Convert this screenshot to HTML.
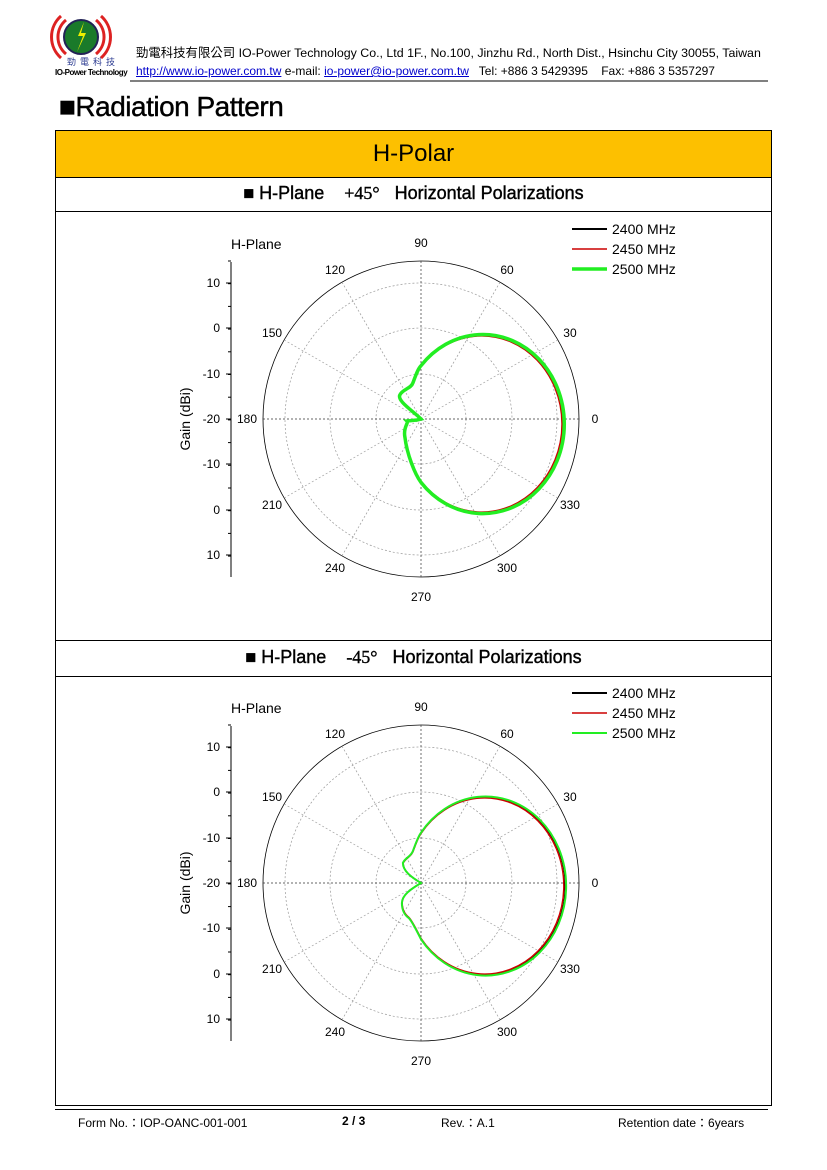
<!DOCTYPE html>
<html><head><meta charset="utf-8"><style>
body{margin:0;background:#fff;font-family:"Liberation Sans","Noto Sans CJK TC",sans-serif;}
.pg{position:relative;width:827px;height:1170px;overflow:hidden}
.a{position:absolute;white-space:nowrap}
a{color:#00c}
</style></head><body><div class="pg">
<svg class="a" style="left:0;top:0" width="827" height="1170" viewBox="0 0 827 1170">
<g>
<path d="M66 20 A22 22 0 0 0 66 54" stroke="#d22" stroke-width="3" fill="none"/>
<path d="M61 16 A28 28 0 0 0 61 58" stroke="#d22" stroke-width="3" fill="none"/>
<path d="M96 20 A22 22 0 0 1 96 54" stroke="#d22" stroke-width="3" fill="none"/>
<path d="M101 16 A28 28 0 0 1 101 58" stroke="#d22" stroke-width="3" fill="none"/>
<circle cx="81" cy="37" r="17" fill="#1a7a2a" stroke="#225" stroke-width="2"/>
<path d="M84 22 L78 36 L83 36 L77 52 L86 33 L81 33 Z" fill="#ee0"/>
</g>
<line x1="130" y1="81" x2="768" y2="81" stroke="#000" stroke-width="1"/>
<rect x="55.5" y="130.5" width="716" height="975" fill="none" stroke="#000"/>
<rect x="56" y="131" width="715" height="46" fill="#fdc000"/>
<line x1="55" y1="177.5" x2="772" y2="177.5" stroke="#000"/>
<line x1="55" y1="211.5" x2="772" y2="211.5" stroke="#000"/>
<line x1="55" y1="640.5" x2="772" y2="640.5" stroke="#000"/>
<line x1="55" y1="676.5" x2="772" y2="676.5" stroke="#000"/>
<line x1="55" y1="1109.5" x2="768" y2="1109.5" stroke="#000"/>
<g id="charts"></g>
</svg>
<div class="a" style="left:136px;top:43px;font-size:12.4px">勁電科技有限公司 IO-Power Technology Co., Ltd 1F., No.100, Jinzhu Rd., North Dist., Hsinchu City 30055, Taiwan</div>
<div class="a" style="left:136px;top:64px;font-size:12px"><a href="#">http://www.io-power.com.tw</a> e-mail: <a href="#">io-power@io-power.com.tw</a> &nbsp; Tel: +886 3 5429395 &nbsp;&nbsp; Fax: +886 3 5357297</div>
<div class="a" style="left:67px;top:55px;font-size:9px;color:#2a3a90;letter-spacing:4px">勁電科技</div>
<div class="a" style="left:55px;top:68px;font-size:8px;font-weight:bold;letter-spacing:-0.5px">IO-Power Technology</div>
<div class="a" style="left:59px;top:91px;font-size:28px;letter-spacing:-0.5px;-webkit-text-stroke:0.4px #000">■Radiation Pattern</div>
<div class="a" style="left:55px;top:140px;width:717px;text-align:center;font-size:24px">H-Polar</div>
<div class="a" style="left:55px;top:183px;width:717px;text-align:center;font-size:18px;-webkit-text-stroke:0.4px #000">■ H-Plane &nbsp;&nbsp; <span style="font-family:'Liberation Serif',serif">+45°</span> &nbsp;&nbsp;Horizontal Polarizations</div>
<div class="a" style="left:55px;top:647px;width:717px;text-align:center;font-size:18px;-webkit-text-stroke:0.4px #000">■ H-Plane &nbsp;&nbsp; <span style="font-family:'Liberation Serif',serif">-45°</span> &nbsp;&nbsp;Horizontal Polarizations</div>
<div class="a" style="left:78px;top:1114px;font-size:12px">Form No.：IOP-OANC-001-001</div>
<div class="a" style="left:342px;top:1114px;font-size:12px;font-weight:bold">2 / 3</div>
<div class="a" style="left:441px;top:1114px;font-size:12px">Rev.：A.1</div>
<div class="a" style="left:618px;top:1114px;font-size:12px">Retention date：6years</div>
<script>
var NS="http://www.w3.org/2000/svg",G=document.getElementById("charts");
function el(t,a,txt){var e=document.createElementNS(NS,t);for(var k in a)e.setAttribute(k,a[k]);if(txt!=null)e.textContent=txt;G.appendChild(e);return e;}
function chart(cy,pat,gw){
 var cx=421,R=158;
 el("circle",{cx:cx,cy:cy,r:R,fill:"none",stroke:"#000","stroke-width":0.8});
 [45,91,136].forEach(function(r){el("circle",{cx:cx,cy:cy,r:r,fill:"none",stroke:"#999","stroke-dasharray":"2,2","stroke-width":0.7});});
 for(var a=0;a<360;a+=30){var t=a*Math.PI/180;var main=(a%90==0);
  el("line",{x1:cx,y1:cy,x2:cx+R*Math.cos(t),y2:cy-R*Math.sin(t),stroke:main?"#333":"#999","stroke-dasharray":"2,2","stroke-width":0.7});
  var lr=R+14;var lx=cx+lr*Math.cos(t),ly=cy-lr*Math.sin(t);
  if(a==0)lx+=2;if(a==180)lx-=2;if(a==90)ly-=4;if(a==270)ly+=6;
  el("text",{x:lx,y:ly+4,"font-size":12,"text-anchor":"middle","font-family":"Liberation Sans"},String(a));}
 el("line",{x1:231,y1:cy-157,x2:231,y2:cy+158,stroke:"#000"});
 var labs=[["10",-136],["0",-91],["-10",-45],["-20",0],["-10",45],["0",91],["10",136]];
 labs.forEach(function(l){el("line",{x1:226,y1:cy+l[1],x2:231,y2:cy+l[1],stroke:"#000"});el("text",{x:220,y:cy+l[1]+4,"font-size":12,"text-anchor":"end","font-family":"Liberation Sans"},l[0]);});
 for(var y=-158;y<=158;y+=22.7){el("line",{x1:228,y1:cy+y,x2:231,y2:cy+y,stroke:"#000"});}
 el("text",{x:231,y:cy-170,"font-size":14,"font-family":"Liberation Sans"},"H-Plane");
 el("text",{transform:"translate(190,"+cy+") rotate(-90)","font-size":14,"text-anchor":"middle","font-family":"Liberation Sans"},"Gain (dBi)");
 [["#000",1.5,1.0],["#c00",1.5,0.99],["#2e2",gw,1.006]].forEach(function(c){
  el("path",{d:pat,fill:"none",stroke:c[0],"stroke-width":c[1]/c[2],transform:"translate("+cx+","+cy+") scale("+c[2]+")"});});
 var ly=cy-190;
 [["#000",2,"2400 MHz"],["#c00",1.5,"2450 MHz"],["#2e2",gw,"2500 MHz"]].forEach(function(l,i){
  el("line",{x1:572,y1:ly+i*20,x2:607,y2:ly+i*20,stroke:l[0],"stroke-width":l[1]});
  el("text",{x:612,y:ly+i*20+5,"font-size":14,"font-family":"Liberation Sans"},l[2]);});
}
chart(419,"M0,-53 A81 89 0 1 1 0,63 C-6,55 -14,35 -16,18 C-18,8 -12,4 -14,2 L-4,1 L0,0 C-8,-8 -24,-18 -21,-24 C-18,-30 -10,-30 -8,-36 C-5,-44 -3,-50 0,-53 Z",3.5);
chart(883,"M0,-50 A80 89 0 1 1 0,56 C-5,46 -9,38 -12,35 C-16,32 -19,28 -19,20 C-19,12 -10,6 0,0 C-10,-6 -18,-12 -18,-20 C-16,-25 -10,-26 -8,-32 C-5,-40 -3,-46 0,-50 Z",2);
</script>
</div></body></html>
